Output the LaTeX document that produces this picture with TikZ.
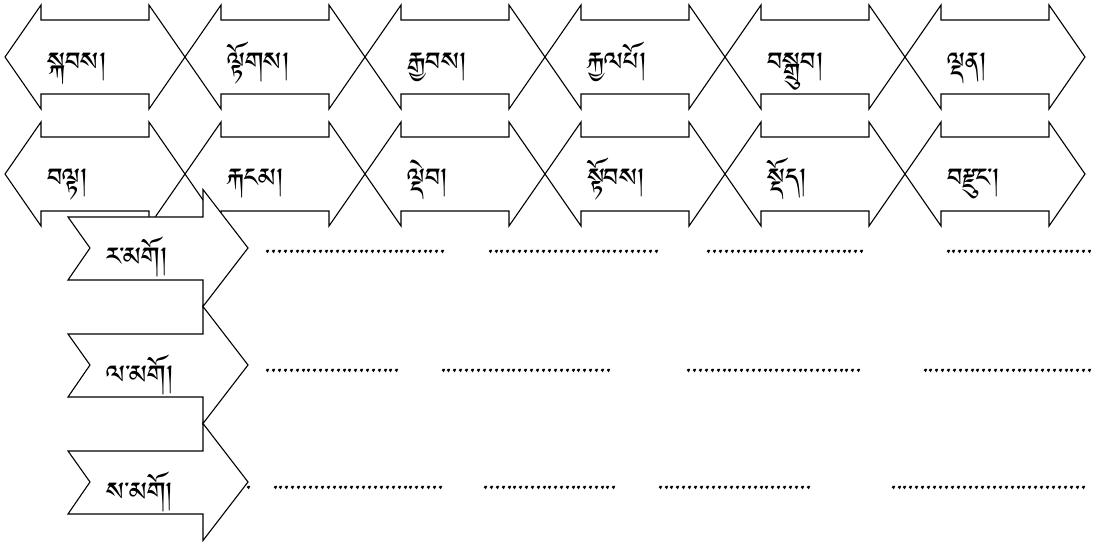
\documentclass[tikz,border=0pt]{standalone}
\usepackage{fontspec}
\IfFontExistsTF{Jomolhari}{\newfontfamily\tib[Script=Tibetan]{Jomolhari}}{%
  \IfFontExistsTF{Tibetan Machine Uni}{\newfontfamily\tib[Script=Tibetan]{Tibetan Machine Uni}}{%
    \newfontfamily\tib{DejaVu Sans}}}
\tikzset{
  dblarrow/.style={draw=black, line width=1.1pt, line join=miter},
  chevbox/.style={draw=black, fill=white, line width=1.1pt, line join=miter},
  lbl/.style={anchor=base west, inner sep=0pt, font=\tib\fontsize{33}{36}\selectfont},
  leader/.style={anchor=base west, inner sep=0pt, font=\tib\fontsize{30}{32}\selectfont}
}
\begin{document}
\begin{tikzpicture}[x=1pt,y=-1pt]
\useasboundingbox (0,0) rectangle (1096,548);
% double arrows
\foreach \c/\r in {57/1,174/2}{
  \foreach \i in {0,...,5}{
    \pgfmathsetmacro{\xo}{5+180*\i}
    \draw[dblarrow] (\xo,\c) -- (\xo+36,\c-52) -- (\xo+36,\c-37) -- (\xo+144,\c-37)
      -- (\xo+144,\c-52) -- (\xo+180,\c) -- (\xo+144,\c+52) -- (\xo+144,\c+37)
      -- (\xo+36,\c+37) -- (\xo+36,\c+52) -- cycle;
  }
}
\foreach \w [count=\k from 0] in {སྐབས།, ལྟོགས།, རྒྱབས།, རྐྱལཔོ།, བསྒྲུབ།, ལྡན།}{
  \node[lbl] (ra\k) at (5+180*\k+42,78) {\w};
}
\foreach \w [count=\k from 0] in {བལྟ།, རྐངམ།, ལྡེབ།, སྟོབས།, སྡོད།, བརྫུང་།}{
  \node[lbl] (rb\k) at (5+180*\k+42,194) {\w};
}
% chevrons
\foreach \c/\w/\n in {248/ར་མགོ།/ra, 365/ལ་མགོ།/la, 482/ས་མགོ།/sa}{
  \draw[chevbox] (68,\c-31) -- (203,\c-31) -- (203,\c-58.5) -- (248,\c) -- (203,\c+58.5)
     -- (203,\c+32) -- (68,\c+32) -- (90,\c) -- cycle;
  \node[lbl] (chev\n) at (106,\c+25) {\w};
}
% leaders
\foreach \a/\b/\y [count=\k] in {265/446/248, 487/660/248, 706/865/248, 945/1093/248,
   265/400/366, 440/612/366, 686/862/366, 922/1093/366,
   245/251/483, 272/444/483, 483/617/483, 657/812/483, 890/1087/483}{
  \node[leader] (dots\k) at (\a,\y+25) {\makebox[\dimexpr\b pt-\a pt\relax]{\xleaders\hbox to 5.8pt{\hss ་\hss}\hfill}};
}
\end{tikzpicture}
\end{document}
